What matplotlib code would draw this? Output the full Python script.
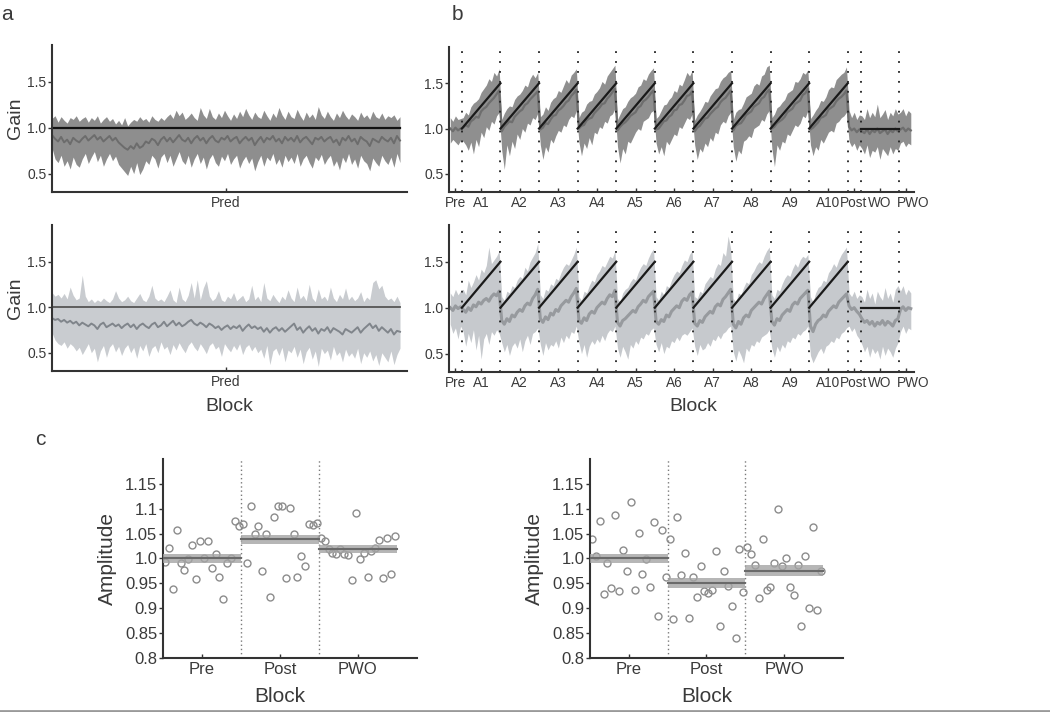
import numpy as np
import matplotlib.pyplot as plt
from matplotlib.lines import Line2D
from matplotlib.transforms import ScaledTranslation

plt.rcParams['font.family'] = ['Liberation Sans', 'DejaVu Sans']
TXT = '#3a3a3a'

# ---------------- panel a : prediction block (gain over trials) ----------------
a1_hi = [
    1.10, 1.13, 1.06, 1.12, 1.08, 1.05, 1.11, 1.09, 1.13, 1.07,
    1.10, 1.12, 1.06, 1.11, 1.08, 1.13, 1.05, 1.09, 1.12, 1.07,
    1.10, 1.04, 1.08, 1.03, 1.11, 1.02, 1.06, 1.09, 1.07, 1.12,
    1.08, 1.10, 1.06, 1.13, 1.09, 1.07, 1.11, 1.08, 1.12, 1.15,
    1.10, 1.19, 1.13, 1.17, 1.09, 1.12, 1.16, 1.11, 1.08, 1.22,
    1.14, 1.10, 1.21, 1.12, 1.09, 1.16, 1.11, 1.19, 1.13, 1.08,
    1.15, 1.10, 1.18, 1.12, 1.21, 1.14, 1.09, 1.17, 1.12, 1.10,
    1.19, 1.13, 1.08, 1.16, 1.11, 1.22, 1.14, 1.09, 1.18, 1.12,
    1.10, 1.20, 1.13, 1.08, 1.17, 1.11, 1.15, 1.09, 1.23, 1.14,
    1.10, 1.18, 1.12, 1.08, 1.16, 1.11, 1.19, 1.13, 1.09, 1.15,
    1.12, 1.08, 1.17, 1.11, 1.14, 1.09, 1.18, 1.12, 1.10, 1.16,
    1.09, 1.13, 1.11, 1.14, 1.08, 1.12]
a1_lo = [
    0.78, 0.66, 0.62, 0.70, 0.58, 0.64, 0.55, 0.68, 0.60, 0.57,
    0.66, 0.72, 0.61, 0.68, 0.74, 0.63, 0.70, 0.58, 0.66, 0.72,
    0.64, 0.69, 0.60, 0.56, 0.52, 0.48, 0.58, 0.50, 0.62, 0.49,
    0.55, 0.64, 0.60, 0.70, 0.66, 0.56, 0.68, 0.72, 0.62, 0.70,
    0.58, 0.66, 0.74, 0.64, 0.60, 0.70, 0.57, 0.66, 0.72, 0.61,
    0.68, 0.55, 0.66, 0.71, 0.62, 0.58, 0.69, 0.64, 0.72, 0.60,
    0.66, 0.70, 0.56, 0.64, 0.69, 0.61, 0.67, 0.53, 0.63, 0.70,
    0.58, 0.68, 0.64, 0.72, 0.60, 0.66, 0.57, 0.70, 0.63, 0.68,
    0.61, 0.72, 0.58, 0.66, 0.70, 0.62, 0.56, 0.68, 0.64, 0.71,
    0.60, 0.66, 0.70, 0.58, 0.64, 0.54, 0.68, 0.62, 0.72, 0.60,
    0.66, 0.56, 0.70, 0.64, 0.61, 0.53, 0.67, 0.62, 0.58, 0.70,
    0.64, 0.60, 0.68, 0.57, 0.72, 0.62]
a1_mu = [
    0.92, 0.88, 0.85, 0.90, 0.84, 0.87, 0.82, 0.89, 0.86, 0.84,
    0.88, 0.91, 0.86, 0.89, 0.92, 0.87, 0.90, 0.85, 0.88, 0.91,
    0.86, 0.89, 0.84, 0.81, 0.78, 0.76, 0.80, 0.77, 0.83, 0.78,
    0.80, 0.85, 0.83, 0.88, 0.86, 0.81, 0.87, 0.90, 0.85, 0.89,
    0.84, 0.88, 0.92, 0.87, 0.85, 0.89, 0.83, 0.88, 0.91, 0.86,
    0.89, 0.83, 0.88, 0.91, 0.86, 0.84, 0.89, 0.87, 0.91, 0.85,
    0.88, 0.90, 0.83, 0.87, 0.90, 0.86, 0.89, 0.81, 0.86, 0.90,
    0.84, 0.89, 0.87, 0.91, 0.85, 0.88, 0.83, 0.90, 0.86, 0.89,
    0.85, 0.91, 0.84, 0.88, 0.90, 0.86, 0.82, 0.89, 0.87, 0.90,
    0.85, 0.88, 0.90, 0.84, 0.87, 0.81, 0.89, 0.86, 0.91, 0.85,
    0.88, 0.82, 0.90, 0.87, 0.85, 0.80, 0.88, 0.86, 0.84, 0.90,
    0.87, 0.85, 0.89, 0.83, 0.91, 0.86]

a2_hi = [
    1.16, 1.12, 1.14, 1.10, 1.15, 1.09, 1.22, 1.13, 1.08, 1.10,
    1.35, 1.12, 1.06, 1.09, 1.05, 1.08, 1.06, 1.10, 1.07, 1.05,
    1.09, 1.18, 1.10, 1.06, 1.08, 1.12, 1.07, 1.05, 1.10, 1.15,
    1.08, 1.06, 1.12, 1.24, 1.10, 1.07, 1.09, 1.06, 1.12, 1.19,
    1.08, 1.05, 1.22, 1.09, 1.06, 1.13, 1.27, 1.10, 1.30, 1.08,
    1.21, 1.29, 1.12, 1.07, 1.10, 1.18, 1.08, 1.06, 1.12, 1.09,
    1.16, 1.07, 1.10, 1.13, 1.06, 1.09, 1.24, 1.08, 1.12, 1.06,
    1.27, 1.10, 1.07, 1.14, 1.09, 1.05, 1.12, 1.08, 1.19, 1.10,
    1.06, 1.22, 1.09, 1.13, 1.07, 1.25, 1.10, 1.06, 1.20, 1.09,
    1.12, 1.07, 1.22, 1.10, 1.06, 1.14, 1.09, 1.21, 1.08, 1.12,
    1.07, 1.10, 1.17, 1.06, 1.11, 1.08, 1.27, 1.30, 1.20, 1.24,
    1.12, 1.08, 1.10, 1.06, 1.12, 1.05]
a2_lo = [
    0.72, 0.64, 0.60, 0.58, 0.62, 0.55, 0.60, 0.57, 0.52, 0.56,
    0.48, 0.54, 0.60, 0.50, 0.55, 0.40, 0.52, 0.58, 0.45, 0.56,
    0.60, 0.51, 0.57, 0.47, 0.55, 0.59, 0.50, 0.56, 0.44, 0.58,
    0.52, 0.60, 0.46, 0.55, 0.58, 0.50, 0.62, 0.54, 0.57, 0.48,
    0.59, 0.53, 0.61, 0.55, 0.50, 0.58, 0.62, 0.56, 0.52, 0.60,
    0.55, 0.49, 0.58, 0.61, 0.54, 0.57, 0.46, 0.60, 0.55, 0.51,
    0.58, 0.53, 0.60, 0.48, 0.56, 0.59, 0.52, 0.57, 0.50, 0.54,
    0.44, 0.58, 0.37, 0.52, 0.55, 0.47, 0.56, 0.40, 0.53, 0.50,
    0.57, 0.45, 0.54, 0.38, 0.51, 0.56, 0.43, 0.52, 0.35, 0.55,
    0.49, 0.53, 0.42, 0.57, 0.47, 0.51, 0.40, 0.54, 0.46, 0.50,
    0.44, 0.55, 0.38, 0.50, 0.45, 0.52, 0.41, 0.48, 0.36, 0.50,
    0.45, 0.40, 0.52, 0.37, 0.48, 0.55]
a2_mu = [
    0.88, 0.86, 0.87, 0.84, 0.86, 0.83, 0.85, 0.82, 0.84, 0.80,
    0.83, 0.81, 0.79, 0.82, 0.80, 0.76, 0.81, 0.83, 0.78, 0.80,
    0.82, 0.79, 0.81, 0.77, 0.80, 0.82, 0.78, 0.81, 0.76, 0.80,
    0.82, 0.79, 0.77, 0.81, 0.83, 0.78, 0.80, 0.84, 0.79, 0.82,
    0.85, 0.80, 0.83, 0.79, 0.81, 0.84, 0.86, 0.82, 0.80, 0.83,
    0.81, 0.78, 0.82, 0.80, 0.77, 0.79, 0.75, 0.78, 0.80, 0.76,
    0.79, 0.77, 0.80, 0.74, 0.78, 0.81, 0.77, 0.79, 0.76, 0.78,
    0.73, 0.77, 0.72, 0.76, 0.78, 0.74, 0.77, 0.73, 0.76, 0.79,
    0.82, 0.75, 0.78, 0.72, 0.76, 0.79, 0.74, 0.77, 0.71, 0.76,
    0.74, 0.78, 0.72, 0.77, 0.75, 0.73, 0.70, 0.76, 0.74, 0.72,
    0.75, 0.78, 0.72, 0.76, 0.79, 0.82, 0.77, 0.80, 0.74, 0.78,
    0.75, 0.72, 0.76, 0.70, 0.74, 0.73]
a_target = 1.0

# ---------------- panel b : adaptation blocks ----------------
b_blocks = ['Pre', 'A1', 'A2', 'A3', 'A4', 'A5', 'A6', 'A7', 'A8', 'A9', 'A10',
            'Post', 'WO', 'PWO']
b_trials = [10, 30, 30, 30, 30, 30, 30, 30, 30, 30, 30, 10, 30, 10]
ramp_start, ramp_end = 1.0, 1.5
wo_level = 1.0

b1_mu = [
    1.00, 0.97, 1.01, 0.98, 1.00,
    1.01, 1.04, 1.02, 1.08, 1.10, 1.13, 1.12, 1.19, 1.22, 1.24, 1.28, 1.31, 1.34, 1.38, 1.42,
    0.97, 1.02, 1.05, 1.08, 1.07, 1.13, 1.16, 1.19, 1.21, 1.26, 1.28, 1.32, 1.35, 1.38, 1.41,
    0.99, 1.01, 1.06, 1.05, 1.10, 1.14, 1.15, 1.20, 1.22, 1.25, 1.29, 1.31, 1.36, 1.39, 1.43,
    1.00, 1.03, 1.04, 1.09, 1.11, 1.12, 1.17, 1.20, 1.23, 1.27, 1.28, 1.33, 1.36, 1.40, 1.44,
    0.98, 1.02, 1.05, 1.07, 1.10, 1.14, 1.16, 1.18, 1.23, 1.25, 1.30, 1.32, 1.35, 1.39, 1.42,
    0.99, 1.00, 1.04, 1.08, 1.09, 1.13, 1.15, 1.20, 1.21, 1.26, 1.27, 1.31, 1.36, 1.37, 1.41,
    0.97, 1.01, 1.03, 1.07, 1.11, 1.12, 1.16, 1.19, 1.22, 1.24, 1.29, 1.32, 1.34, 1.38, 1.42,
    0.98, 1.03, 1.05, 1.06, 1.10, 1.15, 1.17, 1.19, 1.24, 1.26, 1.28, 1.33, 1.35, 1.40, 1.43,
    1.00, 1.02, 1.06, 1.08, 1.10, 1.13, 1.18, 1.20, 1.22, 1.27, 1.29, 1.31, 1.37, 1.39, 1.44,
    0.99, 1.01, 1.04, 1.07, 1.12, 1.13, 1.15, 1.21, 1.23, 1.25, 1.30, 1.33, 1.35, 1.38, 1.42,
    1.02, 0.98, 1.00, 0.96, 0.99,
    0.97, 0.95, 0.99, 0.94, 0.98, 0.96, 1.00, 0.95, 0.97, 0.99, 0.94, 0.98, 0.96, 1.00, 0.97,
    0.99, 1.01, 0.97, 1.00, 0.98]
b1_hi = [
    1.12, 1.08, 1.14, 1.10, 1.11,
    1.12, 1.18, 1.15, 1.24, 1.28, 1.30, 1.33, 1.40, 1.44, 1.48, 1.55, 1.52, 1.62, 1.58, 1.66,
    1.10, 1.17, 1.22, 1.25, 1.24, 1.32, 1.36, 1.38, 1.42, 1.48, 1.46, 1.55, 1.60, 1.56, 1.62,
    1.13, 1.16, 1.24, 1.20, 1.29, 1.33, 1.35, 1.42, 1.40, 1.47, 1.54, 1.50, 1.59, 1.62, 1.66,
    1.12, 1.18, 1.20, 1.27, 1.30, 1.31, 1.38, 1.41, 1.45, 1.52, 1.49, 1.58, 1.62, 1.66, 1.70,
    1.10, 1.16, 1.22, 1.24, 1.30, 1.34, 1.36, 1.39, 1.46, 1.48, 1.55, 1.53, 1.60, 1.64, 1.67,
    1.11, 1.14, 1.20, 1.26, 1.27, 1.32, 1.35, 1.42, 1.40, 1.49, 1.47, 1.54, 1.62, 1.58, 1.64,
    1.09, 1.15, 1.19, 1.24, 1.30, 1.29, 1.36, 1.40, 1.44, 1.45, 1.52, 1.56, 1.58, 1.62, 1.64,
    1.10, 1.18, 1.21, 1.22, 1.28, 1.35, 1.37, 1.39, 1.47, 1.50, 1.48, 1.58, 1.60, 1.68, 1.70,
    1.12, 1.16, 1.23, 1.25, 1.29, 1.32, 1.39, 1.41, 1.43, 1.52, 1.51, 1.55, 1.62, 1.60, 1.65,
    1.11, 1.15, 1.20, 1.24, 1.31, 1.30, 1.35, 1.43, 1.46, 1.45, 1.54, 1.57, 1.60, 1.62, 1.68,
    1.20, 1.12, 1.18, 1.10, 1.15,
    1.14, 1.10, 1.22, 1.12, 1.18, 1.13, 1.27, 1.12, 1.16, 1.21, 1.10, 1.18, 1.14, 1.22, 1.16,
    1.18, 1.22, 1.14, 1.20, 1.17]
b1_lo = [
    0.84, 0.88, 0.85, 0.82, 0.87,
    0.86, 0.82, 0.76, 0.85, 0.72, 0.88, 0.80, 0.96, 0.90, 1.02, 0.98, 1.08, 1.05, 1.14, 1.18,
    0.76, 0.55, 0.82, 0.70, 0.86, 0.78, 0.94, 0.88, 1.00, 0.96, 1.06, 1.04, 1.12, 1.10, 1.17,
    0.82, 0.66, 0.80, 0.74, 0.88, 0.84, 0.92, 0.98, 0.96, 1.04, 1.02, 1.10, 1.14, 1.12, 1.20,
    0.85, 0.70, 0.84, 0.78, 0.90, 0.82, 0.96, 0.94, 1.02, 1.00, 1.08, 1.06, 1.14, 1.16, 1.22,
    0.80, 0.62, 0.78, 0.72, 0.86, 0.84, 0.90, 0.96, 1.00, 0.98, 1.08, 1.10, 1.12, 1.18, 1.20,
    0.84, 0.72, 0.80, 0.70, 0.86, 0.82, 0.88, 0.94, 0.92, 1.02, 1.00, 1.06, 1.12, 1.10, 1.16,
    0.82, 0.66, 0.78, 0.74, 0.84, 0.80, 0.90, 0.86, 0.96, 0.94, 1.04, 1.08, 1.06, 1.14, 1.18,
    0.80, 0.64, 0.76, 0.72, 0.86, 0.88, 0.92, 0.90, 1.00, 1.02, 1.04, 1.10, 1.08, 1.16, 1.20,
    0.78, 0.58, 0.82, 0.76, 0.86, 0.84, 0.94, 0.92, 0.98, 1.04, 1.02, 1.06, 1.14, 1.12, 1.20,
    0.82, 0.70, 0.80, 0.76, 0.88, 0.84, 0.90, 0.96, 0.98, 0.96, 1.06, 1.08, 1.12, 1.14, 1.18,
    0.86, 0.80, 0.84, 0.76, 0.82,
    0.78, 0.72, 0.82, 0.68, 0.76, 0.74, 0.80, 0.66, 0.78, 0.74, 0.70, 0.80, 0.72, 0.78, 0.76,
    0.84, 0.86, 0.80, 0.84, 0.82]

b2_mu = [
    1.00, 0.97, 1.02, 0.99, 1.01,
    0.98, 0.95, 1.00, 0.97, 1.03, 1.01, 1.06, 1.04, 1.08, 1.10, 1.07, 1.12, 1.15, 1.13, 1.18,
    0.86, 0.82, 0.88, 0.85, 0.92, 0.90, 0.95, 0.98, 0.96, 1.02, 1.05, 1.03, 1.10, 1.14, 1.20,
    0.88, 0.84, 0.90, 0.87, 0.94, 0.92, 0.98, 0.96, 1.02, 1.05, 1.08, 1.06, 1.12, 1.16, 1.21,
    0.86, 0.83, 0.89, 0.86, 0.93, 0.96, 0.94, 1.00, 1.03, 1.06, 1.04, 1.10, 1.14, 1.12, 1.19,
    0.84, 0.80, 0.86, 0.88, 0.91, 0.94, 0.97, 0.95, 1.01, 1.04, 1.08, 1.06, 1.12, 1.15, 1.18,
    0.85, 0.82, 0.87, 0.85, 0.92, 0.90, 0.96, 0.99, 1.02, 1.00, 1.07, 1.10, 1.08, 1.14, 1.17,
    0.83, 0.80, 0.86, 0.84, 0.90, 0.93, 0.96, 0.94, 1.01, 1.04, 1.02, 1.09, 1.12, 1.16, 1.20,
    0.82, 0.78, 0.85, 0.82, 0.89, 0.92, 0.90, 0.97, 1.00, 1.03, 1.06, 1.04, 1.10, 1.14, 1.18,
    0.85, 0.81, 0.88, 0.86, 0.92, 0.95, 0.98, 0.96, 1.03, 1.06, 1.04, 1.10, 1.13, 1.16, 1.19,
    0.80, 0.74, 0.82, 0.86, 0.88, 0.92, 0.90, 0.96, 0.99, 1.02, 1.00, 1.06, 1.09, 1.12, 1.15,
    1.02, 0.98, 1.00, 0.96, 0.93,
    0.88, 0.84, 0.86, 0.82, 0.85, 0.80, 0.84, 0.82, 0.86, 0.81, 0.85, 0.83, 0.80, 0.86, 0.88,
    0.98, 1.01, 0.97, 1.00, 0.99]
b2_hi = [
    1.16, 1.12, 1.20, 1.14, 1.18,
    1.20, 1.14, 1.30, 1.22, 1.28, 1.36, 1.30, 1.42, 1.38, 1.46, 1.66, 1.48, 1.52, 1.56, 1.62,
    1.12, 1.08, 1.18, 1.16, 1.24, 1.22, 1.30, 1.34, 1.32, 1.44, 1.40, 1.50, 1.55, 1.60, 1.70,
    1.14, 1.10, 1.20, 1.18, 1.26, 1.24, 1.32, 1.30, 1.38, 1.44, 1.48, 1.46, 1.52, 1.58, 1.66,
    1.12, 1.08, 1.18, 1.16, 1.24, 1.30, 1.28, 1.36, 1.40, 1.46, 1.44, 1.50, 1.56, 1.54, 1.62,
    1.10, 1.06, 1.16, 1.20, 1.22, 1.28, 1.32, 1.30, 1.38, 1.44, 1.48, 1.46, 1.54, 1.60, 1.64,
    1.12, 1.08, 1.18, 1.14, 1.24, 1.22, 1.30, 1.36, 1.40, 1.38, 1.46, 1.52, 1.50, 1.58, 1.62,
    1.12, 1.10, 1.18, 1.16, 1.26, 1.30, 1.34, 1.32, 1.42, 1.48, 1.46, 1.60, 1.56, 1.78, 1.64,
    1.10, 1.06, 1.16, 1.14, 1.22, 1.28, 1.26, 1.36, 1.40, 1.46, 1.50, 1.48, 1.56, 1.62, 1.66,
    1.14, 1.10, 1.20, 1.18, 1.26, 1.32, 1.36, 1.34, 1.42, 1.48, 1.44, 1.52, 1.56, 1.54, 1.58,
    1.12, 1.06, 1.16, 1.22, 1.24, 1.30, 1.28, 1.38, 1.42, 1.48, 1.44, 1.52, 1.58, 1.62, 1.66,
    1.16, 1.12, 1.18, 1.10, 1.14,
    1.12, 1.06, 1.20, 1.10, 1.16, 1.04, 1.18, 1.12, 1.08, 1.22, 1.10, 1.16, 1.06, 1.20, 1.24,
    1.18, 1.24, 1.14, 1.20, 1.16]
b2_lo = [
    0.82, 0.72, 0.78, 0.66, 0.80,
    0.74, 0.58, 0.72, 0.62, 0.76, 0.54, 0.70, 0.44, 0.66, 0.72, 0.60, 0.74, 0.70, 0.76, 0.72,
    0.62, 0.52, 0.60, 0.48, 0.58, 0.62, 0.56, 0.66, 0.52, 0.64, 0.70, 0.60, 0.72, 0.74, 0.78,
    0.60, 0.48, 0.62, 0.54, 0.60, 0.58, 0.64, 0.56, 0.68, 0.62, 0.70, 0.66, 0.74, 0.72, 0.80,
    0.62, 0.50, 0.60, 0.46, 0.58, 0.64, 0.60, 0.66, 0.62, 0.70, 0.64, 0.72, 0.76, 0.74, 0.80,
    0.56, 0.46, 0.58, 0.52, 0.44, 0.60, 0.56, 0.64, 0.60, 0.68, 0.66, 0.72, 0.70, 0.76, 0.78,
    0.60, 0.52, 0.62, 0.50, 0.58, 0.56, 0.64, 0.62, 0.68, 0.64, 0.70, 0.72, 0.70, 0.74, 0.78,
    0.58, 0.48, 0.60, 0.54, 0.56, 0.62, 0.58, 0.66, 0.64, 0.70, 0.66, 0.72, 0.74, 0.78, 0.80,
    0.52, 0.42, 0.54, 0.48, 0.40, 0.56, 0.52, 0.60, 0.58, 0.64, 0.62, 0.68, 0.70, 0.72, 0.76,
    0.56, 0.46, 0.58, 0.52, 0.60, 0.56, 0.64, 0.62, 0.68, 0.66, 0.72, 0.70, 0.74, 0.76, 0.80,
    0.48, 0.40, 0.46, 0.52, 0.56, 0.50, 0.58, 0.60, 0.64, 0.62, 0.68, 0.66, 0.72, 0.74, 0.78,
    0.80, 0.74, 0.78, 0.70, 0.66,
    0.60, 0.52, 0.58, 0.46, 0.56, 0.50, 0.54, 0.44, 0.58, 0.48, 0.56, 0.52, 0.46, 0.56, 0.62,
    0.74, 0.80, 0.72, 0.78, 0.76]

# ---------------- panel c : amplitude per subject ----------------
c_blocks = ['Pre', 'Post', 'PWO']
c_yticks = [0.8, 0.85, 0.9, 0.95, 1.0, 1.05, 1.1, 1.15]
c_yticklabels = ['0.8', '0.85', '0.9', '0.95', '1.0', '1.05', '1.1', '1.15']

c1_pre = [0.993, 1.022, 0.939, 1.057, 0.990, 0.977, 0.999, 1.028, 0.959, 1.035,
          1.000, 1.035, 0.980, 1.010, 0.962, 0.919, 0.990, 1.000, 1.076, 1.065]
c1_post = [1.069, 0.990, 1.106, 1.050, 1.066, 0.975, 1.050, 0.923, 1.084, 1.105,
           1.105, 0.960, 1.101, 1.050, 0.962, 1.005, 0.985, 1.070, 1.067, 1.072]
c1_pwo = [1.042, 1.036, 1.020, 1.012, 1.010, 1.020, 1.009, 1.008, 0.957, 1.091,
          0.999, 1.011, 0.962, 1.016, 1.022, 1.037, 0.960, 1.041, 0.969, 1.045]
c1_mean = [1.000, 1.039, 1.019]
c1_se = [0.009, 0.009, 0.008]

c2_pre = [1.039, 1.005, 1.076, 0.928, 0.990, 0.941, 1.088, 0.935, 1.017, 0.975,
          1.113, 0.937, 1.051, 0.969, 0.999, 0.943, 1.074, 0.884, 1.058, 0.963]
c2_post = [1.039, 0.879, 1.084, 0.967, 1.012, 0.881, 0.963, 0.923, 0.985, 0.934,
           0.931, 0.937, 1.016, 0.864, 0.975, 0.945, 0.905, 0.841, 1.019, 0.933]
c2_pwo = [1.024, 1.010, 0.987, 0.920, 1.039, 0.937, 0.942, 0.990, 1.099, 0.985,
          1.000, 0.942, 0.927, 0.987, 0.865, 1.005, 0.900, 1.064, 0.896, 0.975]
c2_mean = [1.000, 0.951, 0.975]
c2_se = [0.010, 0.010, 0.011]


def style(ax, fs=10):
    for s in ['top', 'right']:
        ax.spines[s].set_visible(False)
    for s in ['left', 'bottom']:
        ax.spines[s].set_color('#333333')
        ax.spines[s].set_linewidth(1.5)
    ax.tick_params(axis='y', direction='out', length=3, width=1, colors='#333333',
                   labelcolor=TXT, labelsize=fs, pad=1)
    ax.tick_params(axis='x', direction='in', length=3, width=1, colors='#333333',
                   labelcolor=TXT, labelsize=fs, pad=3)


def gain_axes(ax):
    ax.set_ylim(0.3, 1.9)
    ax.set_yticks([0.5, 1.0, 1.5])
    ax.set_yticklabels(['0.5', '1.0', '1.5'])


fig = plt.figure(figsize=(10.5, 7.12), dpi=100)
W, H = 1050.0, 712.0


def px_axes(l, t, r, b):
    return fig.add_axes([l / W, 1 - b / H, (r - l) / W, (b - t) / H])


# panel a
a_x = np.arange(len(a1_mu))
a_specs = [
    (45, 192, a1_hi, a1_lo, a1_mu, '#8e8e8e', '#6c6c6c', '#111111', 1.6),
    (225, 371, a2_hi, a2_lo, a2_mu, '#c9ccd0', '#80858b', '#555555', 1.3),
]
for top, bot, hi, lo, mu, band_c, mu_c, tgt_c, tgt_w in a_specs:
    ax = px_axes(52, top, 407, bot)
    ax.fill_between(a_x, lo, hi, color=band_c, lw=0)
    ax.plot(a_x, mu, color=mu_c, lw=1.4)
    ax.plot([a_x[0], a_x[-1]], [a_target, a_target], color=tgt_c, lw=tgt_w)
    ax.set_xlim(0, (len(a_x) - 1) * 355 / 348)
    gain_axes(ax)
    ax.set_xticks([(len(a_x) - 1) / 2])
    ax.set_xticklabels(['Pred'], fontsize=11)
    style(ax)
    ax.set_ylabel('Gain', fontsize=14, color=TXT, labelpad=2)
    if top > 100:
        ax.set_xlabel('Block', fontsize=14, color=TXT)
        ax.xaxis.set_label_coords(0.5, -(398 - bot) / (bot - top))

# panel b
b_edges = np.concatenate([[0], np.cumsum(b_trials)])
b_centers = (b_edges[:-1] + b_edges[1:]) / 2
b_x = np.arange(1, b_edges[-1], 2)
b_specs = [
    (47, 192, b1_hi, b1_lo, b1_mu, '#8f8f8f', '#6e6e6e'),
    (225, 372, b2_hi, b2_lo, b2_mu, '#c6c9cd', '#979a9e'),
]
label_shift = {'Post': -1, 'WO': 0, 'PWO': 7}
for top, bot, hi, lo, mu, band_c, mu_c in b_specs:
    ax = px_axes(449, top, 914, bot)
    ax.fill_between(b_x, lo, hi, color=band_c, lw=0)
    ax.plot(b_x, mu, color=mu_c, lw=1.6 if top < 100 else 2.2)
    for name, s, e in zip(b_blocks, b_edges[:-1], b_edges[1:]):
        if name.startswith('A'):
            ax.plot([s, e], [ramp_start, ramp_end], color='#1a1a1a', lw=1.6)
        elif name == 'WO':
            ax.plot([s, e], [wo_level, wo_level], color='#1a1a1a', lw=1.6)
    for e in b_edges[1:-1]:
        ax.axvline(e, color='#222222', lw=1.3, ls=(0, (1, 4.5)))
    ax.set_xlim(0, b_edges[-1] + 1.5)
    gain_axes(ax)
    ax.set_xticks(b_centers)
    ax.set_xticklabels(b_blocks, fontsize=9.5)
    style(ax, fs=10)
    ax.tick_params(axis='x', labelsize=9.8)
    for lab in ax.get_xticklabels():
        dx = label_shift.get(lab.get_text(), 0)
        if dx:
            lab.set_transform(lab.get_transform() +
                              ScaledTranslation(dx / 100, 0, fig.dpi_scale_trans))
    if top > 100:
        ax.set_xlabel('Block', fontsize=14, color=TXT)
        ax.xaxis.set_label_coords((693 - 449) / 465, -(398 - bot) / (bot - top))

# panel c
c_specs = [
    (163, 417, [c1_pre, c1_post, c1_pwo], c1_mean, c1_se),
    (590, 843, [c2_pre, c2_post, c2_pwo], c2_mean, c2_se),
]
for left, right, groups, means, ses in c_specs:
    ax = px_axes(left, 459, right, 658)
    for k, vals in enumerate(groups):
        n = len(vals)
        xs = k + (np.arange(n) + 0.5) / n
        ax.plot(xs, vals, 'o', mfc='none', mec='#8c8c8c', ms=5, mew=1.0, zorder=2)
        ax.fill_between([k, k + 1], means[k] - ses[k], means[k] + ses[k],
                        color='#a4a4a4', alpha=0.8, lw=0, zorder=3)
        ax.plot([k, k + 1], [means[k], means[k]], color='#6a6a6a', lw=1.5, zorder=4)
    for e in [1, 2]:
        ax.axvline(e, color='#7a7a7a', lw=1.0, ls=(0, (1, 2)), zorder=1)
    ax.set_xlim(0, 3.26)
    ax.set_ylim(0.8, 1.2)
    ax.set_yticks(c_yticks)
    ax.set_yticklabels(c_yticklabels)
    ax.set_xticks([0.5, 1.5, 2.5])
    ax.set_xticklabels(c_blocks)
    style(ax, fs=12)
    ax.set_ylabel('Amplitude', fontsize=15, color=TXT, labelpad=6)
    ax.set_xlabel('Block', fontsize=15, color=TXT)
    ax.xaxis.set_label_coords(0.46, -(687 - 658) / 199)

# panel letters
fig.text(1 / W, 1 - 15 / H, 'a', fontsize=15, color=TXT, va='center')
fig.text(452 / W, 1 - 14 / H, 'b', fontsize=15, color=TXT, va='center')
fig.text(35 / W, 1 - 440 / H, 'c', fontsize=15, color=TXT, va='center')

# thin rule at the bottom edge
fig.add_artist(Line2D([0, 1], [1 - 710.5 / H, 1 - 710.5 / H], color='#9a9a9a', lw=2))

fig.savefig('out.png', dpi=100)
